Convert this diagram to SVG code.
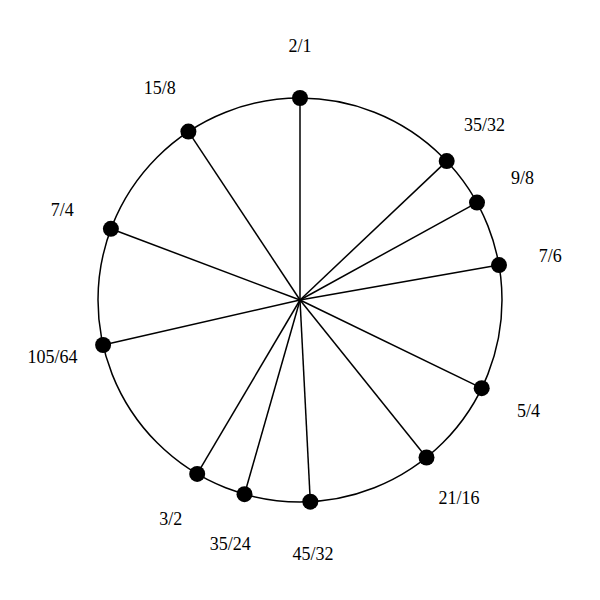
<svg xmlns="http://www.w3.org/2000/svg" width="600" height="600" viewBox="0 0 600 600">
<style>
.spoke{stroke:#000;stroke-width:1.5;fill:none}
.dot{fill:#000}
.lbl{font-family:"Liberation Serif","Times New Roman",serif;font-size:18px;fill:#000;text-anchor:middle}
</style>
<rect width="600" height="600" fill="#fff"/>
<circle id="ring" cx="300" cy="300" r="202" fill="none" stroke="#000" stroke-width="1.5"/>
<g id="connectors">
<line class="spoke" x1="300" y1="300" x2="300" y2="98"/>
<line class="spoke" x1="300" y1="300" x2="446.7" y2="161.1"/>
<line class="spoke" x1="300" y1="300" x2="477.0" y2="202.6"/>
<line class="spoke" x1="300" y1="300" x2="499.0" y2="265.1"/>
<line class="spoke" x1="300" y1="300" x2="481.7" y2="388.2"/>
<line class="spoke" x1="300" y1="300" x2="426.5" y2="457.5"/>
<line class="spoke" x1="300" y1="300" x2="310.3" y2="501.7"/>
<line class="spoke" x1="300" y1="300" x2="244.5" y2="494.2"/>
<line class="spoke" x1="300" y1="300" x2="197.2" y2="473.9"/>
<line class="spoke" x1="300" y1="300" x2="103.1" y2="345.0"/>
<line class="spoke" x1="300" y1="300" x2="110.9" y2="228.8"/>
<line class="spoke" x1="300" y1="300" x2="188.4" y2="131.6"/>
</g>
<g id="n-2-1"><circle class="dot" cx="300" cy="98" r="8"/><text class="lbl" x="300" y="52">2/1</text></g>
<g id="n-35-32"><circle class="dot" cx="446.7" cy="161.1" r="8"/><text class="lbl" x="484.4" y="131.3">35/32</text></g>
<g id="n-9-8"><circle class="dot" cx="477.0" cy="202.6" r="8"/><text class="lbl" x="522.5" y="183.5">9/8</text></g>
<g id="n-7-6"><circle class="dot" cx="499.0" cy="265.1" r="8"/><text class="lbl" x="550.2" y="262.2">7/6</text></g>
<g id="n-5-4"><circle class="dot" cx="481.7" cy="388.2" r="8"/><text class="lbl" x="528.5" y="416.9">5/4</text></g>
<g id="n-21-16"><circle class="dot" cx="426.5" cy="457.5" r="8"/><text class="lbl" x="459.0" y="504.0">21/16</text></g>
<g id="n-45-32"><circle class="dot" cx="310.3" cy="501.7" r="8"/><text class="lbl" x="313.0" y="559.7">45/32</text></g>
<g id="n-35-24"><circle class="dot" cx="244.5" cy="494.2" r="8"/><text class="lbl" x="230.2" y="550.2">35/24</text></g>
<g id="n-3-2"><circle class="dot" cx="197.2" cy="473.9" r="8"/><text class="lbl" x="170.7" y="524.6">3/2</text></g>
<g id="n-105-64"><circle class="dot" cx="103.1" cy="345.0" r="8"/><text class="lbl" x="52.4" y="362.6">105/64</text></g>
<g id="n-7-4"><circle class="dot" cx="110.9" cy="228.8" r="8"/><text class="lbl" x="62.3" y="216.4">7/4</text></g>
<g id="n-15-8"><circle class="dot" cx="188.4" cy="131.6" r="8"/><text class="lbl" x="159.7" y="94.2">15/8</text></g>
</svg>
